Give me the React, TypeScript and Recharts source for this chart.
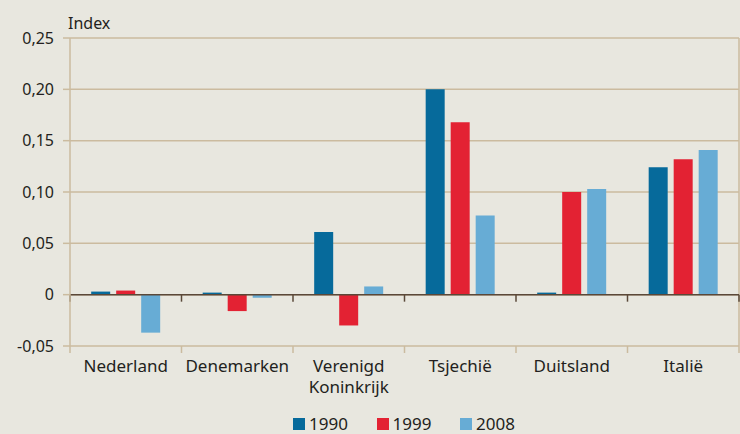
import {
  BarChart,
  Bar,
  XAxis,
  YAxis,
  CartesianGrid,
  Legend,
  ReferenceLine,
} from "recharts";

const COUNTRIES = ["Nederland", "Denemarken", "Verenigd Koninkrijk", "Tsjechië", "Duitsland", "Italië"];
const Y1990 = [0.003, 0.002, 0.061, 0.2, 0.002, 0.124];
const Y1999 = [0.004, -0.016, -0.03, 0.168, 0.1, 0.132];
const Y2008 = [-0.037, -0.003, 0.008, 0.077, 0.103, 0.141];
const Y_TICKS = [-0.05, 0, 0.05, 0.1, 0.15, 0.2, 0.25];

const SERIES = [
  { key: "1990", color: "#066a9b" },
  { key: "1999", color: "#e32233" },
  { key: "2008", color: "#67acd5" },
];

const rows = COUNTRIES.map((country, i) => ({
  country,
  "1990": Y1990[i],
  "1999": Y1999[i],
  "2008": Y2008[i],
}));

const FONT = "'Noto Sans', sans-serif";
const TEXT = "#231f20";
const GRID = "#cbbb9f";
const ZERO = "#5a4839";

const fmt = (v: number) => (v === 0 ? "0" : v.toFixed(2).replace(".", ","));

function CountryTick({ x, y, payload }: any) {
  const lines = String(payload.value).split(" ");
  return (
    <text
      x={x}
      y={y}
      textAnchor="middle"
      fill={TEXT}
      style={{ fontFamily: FONT, fontSize: 17 }}
    >
      {lines.map((l, i) => (
        <tspan key={l} x={x} dy={i === 0 ? 18 : 21}>
          {l}
        </tspan>
      ))}
    </text>
  );
}

// axis line with small ticks at the category boundaries
function boundaryTicks(color: string, drawLine: boolean) {
  return (p: any) => {
    const { x1, x2, y1 } = p;
    const n = COUNTRIES.length;
    const step = (x2 - x1) / n;
    return (
      <g>
        {drawLine && <line x1={x1} x2={x2} y1={y1} y2={y1} stroke={color} strokeWidth={1.5} />}
        {Array.from({ length: n + 1 }, (_, i) => (
          <line key={i} x1={x1 + i * step} x2={x1 + i * step} y1={y1} y2={y1 + 7} stroke={color} strokeWidth={1.5} />
        ))}
      </g>
    );
  };
}

function renderLegend() {
  return (
    <div style={{ height: 30, display: "flex", paddingLeft: 293, paddingTop: 14, boxSizing: "border-box" }}>
      {SERIES.map((s) => (
        <div key={s.key} style={{ width: 83.5, height: 12, display: "flex", alignItems: "center" }}>
          <span style={{ width: 12, height: 12, background: s.color, display: "inline-block", marginRight: 4, flexShrink: 0 }} />
          <span style={{ fontFamily: FONT, fontSize: 17, color: TEXT, lineHeight: "12px", marginTop: -1 }}>
            {s.key}
          </span>
        </div>
      ))}
    </div>
  );
}

export default function App() {
  return (
    <div style={{ width: 740, height: 434, background: "#e8e7df" }}>
      <style>{"body{margin:0}"}</style>
      <BarChart
        width={740}
        height={434}
        data={rows}
        margin={{ top: 38, right: 1, left: 0, bottom: 0 }}
        barCategoryGap="19%"
        barGap={6}
      >
        <CartesianGrid
          stroke={GRID}
          strokeWidth={1.5}
          verticalCoordinatesGenerator={({ offset }: any) => [offset.left + offset.width]}
        />
        <XAxis
          dataKey="country"
          interval={0}
          height={58}
          axisLine={false}
          tickLine={false}
          tick={<CountryTick />}
        />
        <YAxis
          width={70}
          domain={[-0.05, 0.25]}
          ticks={Y_TICKS}
          tickFormatter={fmt}
          axisLine={{ stroke: GRID, strokeWidth: 1.5 }}
          tickLine={{ stroke: GRID, strokeWidth: 1.5 }}
          tickSize={7}
          tickMargin={9}
          tick={{ fill: TEXT, fontSize: 16, fontFamily: FONT }}
          label={{
            content: ({ viewBox }: any) => (
              <text x={viewBox.x + viewBox.width - 2} y={viewBox.y - 9} fill={TEXT} style={{ fontFamily: FONT, fontSize: 16 }}>
                Index
              </text>
            ),
          }}
        />
        <ReferenceLine y={-0.05} stroke={GRID} shape={boundaryTicks(GRID, false)} />
        {SERIES.map((s) => (
          <Bar key={s.key} dataKey={s.key} fill={s.color} isAnimationActive={false} />
        ))}
        <ReferenceLine y={0} stroke={ZERO} shape={boundaryTicks(ZERO, true)} />
        <Legend verticalAlign="bottom" content={renderLegend} />
      </BarChart>
    </div>
  );
}
